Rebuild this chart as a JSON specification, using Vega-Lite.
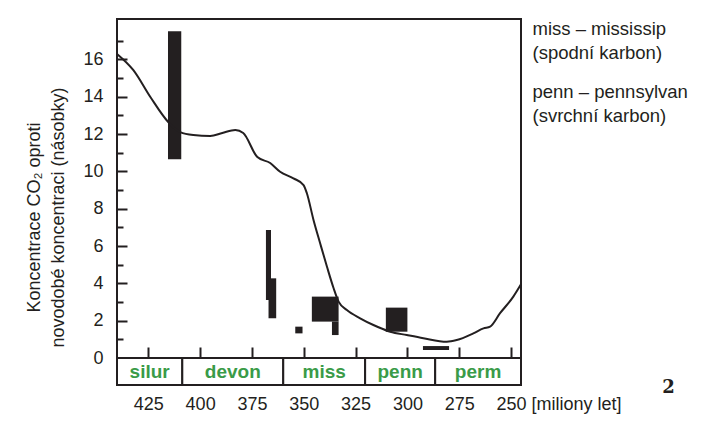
{
  "$schema": "https://vega.github.io/schema/vega-lite/v6.json",
  "padding": {"left": 24, "top": 18, "right": 0, "bottom": 0},
  "background": "white",
  "config": {
    "view": {"stroke": "#231f20", "strokeWidth": 2},
    "font": "Liberation Sans",
    "axis": {
      "labelColor": "#231f20", "titleColor": "#231f20",
      "labelFont": "Liberation Sans", "titleFont": "Liberation Sans",
      "grid": false, "domain": false, "tickColor": "#231f20", "tickWidth": 2,
      "labelFlush": false, "labelOverlap": false
    }
  },
  "datasets": {
    "co2": [
      {"ma": 440.1, "co2": 16.3}, {"ma": 432.2, "co2": 15.43}, {"ma": 424.0, "co2": 13.99},
      {"ma": 415.4, "co2": 12.65}, {"ma": 409.6, "co2": 12.11}, {"ma": 403.3, "co2": 11.95},
      {"ma": 395.1, "co2": 11.9}, {"ma": 389.3, "co2": 12.06}, {"ma": 383.0, "co2": 12.22},
      {"ma": 379.2, "co2": 12.06}, {"ma": 372.4, "co2": 10.77}, {"ma": 366.2, "co2": 10.45},
      {"ma": 361.4, "co2": 9.98}, {"ma": 355.0, "co2": 9.63}, {"ma": 350.1, "co2": 9.27},
      {"ma": 348.5, "co2": 8.83}, {"ma": 345.3, "co2": 7.4}, {"ma": 342.1, "co2": 6.15},
      {"ma": 338.8, "co2": 4.89}, {"ma": 335.6, "co2": 3.74}, {"ma": 333.2, "co2": 3.02},
      {"ma": 329.2, "co2": 2.57}, {"ma": 322.8, "co2": 2.13}, {"ma": 316.4, "co2": 1.77},
      {"ma": 308.3, "co2": 1.41}, {"ma": 300.3, "co2": 1.23}, {"ma": 292.3, "co2": 1.06},
      {"ma": 281.0, "co2": 0.87}, {"ma": 276.2, "co2": 0.96}, {"ma": 268.2, "co2": 1.32},
      {"ma": 263.3, "co2": 1.59}, {"ma": 260.1, "co2": 1.68}, {"ma": 255.3, "co2": 2.4},
      {"ma": 248.9, "co2": 3.29}, {"ma": 245.2, "co2": 3.95}
    ],
    "boxes": [
      {"start": 415.5, "end": 409.1, "low": 10.65, "high": 17.52},
      {"start": 368.25, "end": 365.8, "low": 3.11, "high": 6.86},
      {"start": 367.0, "end": 363.3, "low": 2.13, "high": 4.27},
      {"start": 354.1, "end": 350.6, "low": 1.32, "high": 1.68},
      {"start": 346.1, "end": 333.2, "low": 1.95, "high": 3.29},
      {"start": 336.4, "end": 333.2, "low": 1.23, "high": 1.95},
      {"start": 310.4, "end": 300.0, "low": 1.41, "high": 2.7}
    ],
    "dash": [
      {"start": 292.5, "end": 279.9, "low": 0.43, "high": 0.64}
    ],
    "periods": [
      {"name": "silur", "start": 440.1, "end": 408.6},
      {"name": "devon", "start": 408.6, "end": 359.9},
      {"name": "miss", "start": 359.9, "end": 320.4},
      {"name": "penn", "start": 320.4, "end": 286.6},
      {"name": "perm", "start": 286.6, "end": 245.2}
    ]
  },
  "spacing": 0,
  "bounds": "flush",
  "vconcat": [
    {
      "width": 404,
      "height": 339,
      "resolve": {"axis": {"y": "independent"}},
      "layer": [
        {
          "data": {"name": "boxes"},
          "mark": {"type": "rect", "color": "#231f20"},
          "encoding": {
            "x": {
              "field": "start", "type": "quantitative",
              "scale": {"domain": [440.1, 245.2], "nice": false, "zero": false},
              "axis": {"values": [425, 400, 375, 350, 325, 300, 275, 250], "labels": false, "tickSize": -11, "title": null, "orient": "bottom"}
            },
            "x2": {"field": "end"},
            "y": {
              "field": "low", "type": "quantitative",
              "scale": {"domain": [0, 18.17], "nice": false, "zero": false},
              "axis": {
                "orient": "left",
                "values": [0, 2, 4, 6, 8, 10, 12, 14, 16],
                "tickSize": -10, "labelPadding": 24, "labelFontSize": 18,
                "title": ["Koncentrace CO₂ oproti", "novodobé koncentraci (násobky)"],
                "titleFontSize": 18, "titleFontWeight": "normal", "titleLineHeight": 24,
                "titleX": -83, "titleY": 198, "titleBaseline": "middle", "titleAlign": "center"
              }
            },
            "y2": {"field": "high"}
          }
        },
        {
          "data": {"name": "co2"},
          "mark": {"type": "line", "color": "#231f20", "strokeWidth": 2, "interpolate": "monotone"},
          "encoding": {
            "x": {"field": "ma", "type": "quantitative", "scale": {"domain": [440.1, 245.2], "nice": false, "zero": false}},
            "y": {
              "field": "co2", "type": "quantitative",
              "scale": {"domain": [0, 18.17], "nice": false, "zero": false},
              "axis": {"orient": "left", "values": [1, 3, 5, 7, 9, 11, 13, 15, 17], "labels": false, "tickSize": -6, "title": null}
            }
          }
        },
        {
          "data": {"name": "dash"},
          "mark": {"type": "rect", "color": "#231f20"},
          "encoding": {
            "x": {"field": "start", "type": "quantitative", "scale": {"domain": [440.1, 245.2], "nice": false, "zero": false}},
            "x2": {"field": "end"},
            "y": {
              "field": "low", "type": "quantitative",
              "scale": {"domain": [0, 18.17], "nice": false, "zero": false},
              "axis": {
                "orient": "right",
                "values": [17.68, 16.4, 14.26, 13.02],
                "ticks": false, "labelPadding": 11, "labelAlign": "left", "labelBaseline": "middle",
                "labelFontSize": 18.5, "title": null,
                "labelExpr": "datum.value > 17 ? 'miss – mississip' : datum.value > 16 ? '(spodní karbon)' : datum.value > 14 ? 'penn – pennsylvan' : '(svrchní karbon)'"
              }
            },
            "y2": {"field": "high"}
          }
        }
      ]
    },
    {
      "width": 404,
      "height": 27,
      "data": {"name": "periods"},
      "transform": [{"calculate": "(datum.start + datum.end) / 2", "as": "mid"}],
      "layer": [
        {
          "mark": {"type": "rect", "fill": "white", "stroke": "#231f20", "strokeWidth": 2},
          "encoding": {
            "x": {
              "field": "start", "type": "quantitative",
              "scale": {"domain": [440.1, 245.2], "nice": false, "zero": false},
              "axis": {
                "orient": "bottom",
                "values": [425, 400, 375, 350, 325, 300, 275, 250],
                "ticks": false, "labelPadding": 10, "labelFontSize": 18,
                "labelExpr": "datum.value == 250 ? '250 [miliony let]' : datum.label",
                "labelAlign": {"condition": {"test": "datum.value == 250", "value": "left"}, "value": "center"},
                "labelOffset": {"condition": {"test": "datum.value == 250", "value": -15}, "value": 0},
                "title": "2", "titleX": 551, "titleY": 7, "titleAlign": "center", "titleBaseline": "alphabetic",
                "titleFont": "DejaVu Serif", "titleFontWeight": "bold", "titleFontSize": 18
              }
            },
            "x2": {"field": "end"}
          }
        },
        {
          "mark": {"type": "text", "fontSize": 19, "fontWeight": "bold", "color": "#3a9b48", "baseline": "middle"},
          "encoding": {
            "x": {"field": "mid", "type": "quantitative"},
            "text": {"field": "name"}
          }
        }
      ]
    }
  ]
}
